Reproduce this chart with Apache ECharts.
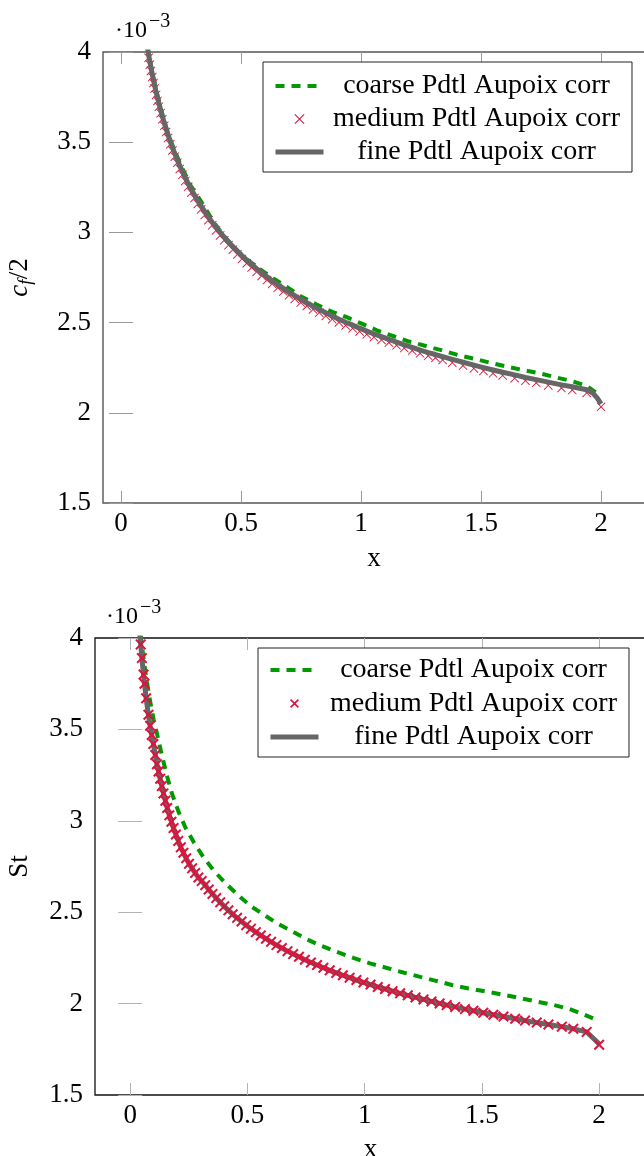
<!DOCTYPE html>
<html>
<head>
<meta charset="utf-8">
<script src="https://cdn.jsdelivr.net/npm/echarts@6.0.0/dist/echarts.min.js"></script>
<style>
  html, body { margin: 0; padding: 0; background: #fff; }
  #cf { position: absolute; left: 0; top: 0; width: 644px; height: 580px; }
  #st { position: absolute; left: 0; top: 580px; width: 644px; height: 576px; }
</style>
</head>
<body>
<div id="cf"></div>
<div id="st"></div>
<script>
var FONT = 'Liberation Serif';
var GREEN = '#009900';
var RED = '#dc143c';
var GRAY = '#666666';

var legendNames = ['coarse Pdtl Aupoix corr', 'medium Pdtl Aupoix corr', 'fine Pdtl Aupoix corr'];
var xTicks = [0, 0.5, 1, 1.5, 2];

// cf/2 (x 1e-3)
var cfCoarseX = [0.10, 0.113, 0.13, 0.15, 0.175, 0.20, 0.245, 0.29, 0.32, 0.385, 0.425, 0.48, 0.53, 0.59, 0.64, 0.70, 0.75, 0.815, 0.88, 0.94, 1.01, 1.07, 1.135, 1.20, 1.27, 1.34, 1.405, 1.47, 1.54, 1.61, 1.675, 1.74, 1.81, 1.88, 1.94, 2.0];
var cfCoarseY = [4.12, 4.0, 3.89, 3.77, 3.64, 3.53, 3.385, 3.26, 3.20, 3.06, 2.985, 2.905, 2.845, 2.785, 2.74, 2.69, 2.645, 2.60, 2.56, 2.53, 2.49, 2.455, 2.425, 2.395, 2.37, 2.345, 2.32, 2.30, 2.277, 2.255, 2.237, 2.22, 2.197, 2.175, 2.15, 2.09];

var cfMediumX = [0.115, 0.12, 0.125, 0.13, 0.135, 0.14, 0.146, 0.152, 0.158, 0.165, 0.172, 0.18, 0.188, 0.196, 0.205, 0.214, 0.224, 0.234, 0.245, 0.256, 0.268, 0.28, 0.293, 0.306, 0.32, 0.334, 0.349, 0.364, 0.38, 0.396, 0.413, 0.43, 0.448, 0.466, 0.485, 0.504, 0.524, 0.544, 0.565, 0.586, 0.608, 0.63, 0.653, 0.676, 0.7, 0.724, 0.749, 0.774, 0.8, 0.826, 0.853, 0.88, 0.908, 0.936, 0.965, 0.994, 1.024, 1.054, 1.085, 1.116, 1.148, 1.18, 1.213, 1.246, 1.28, 1.31, 1.34, 1.38, 1.425, 1.47, 1.51, 1.55, 1.59, 1.64, 1.685, 1.73, 1.78, 1.835, 1.88, 1.94, 2.0];
var cfMediumY = [3.968, 3.930, 3.895, 3.861, 3.828, 3.798, 3.762, 3.729, 3.697, 3.661, 3.627, 3.591, 3.556, 3.523, 3.488, 3.454, 3.420, 3.386, 3.352, 3.319, 3.285, 3.253, 3.220, 3.190, 3.158, 3.128, 3.097, 3.068, 3.039, 3.011, 2.983, 2.956, 2.929, 2.904, 2.878, 2.853, 2.829, 2.805, 2.781, 2.759, 2.736, 2.714, 2.693, 2.672, 2.651, 2.631, 2.611, 2.592, 2.573, 2.555, 2.537, 2.519, 2.501, 2.484, 2.468, 2.451, 2.435, 2.419, 2.404, 2.389, 2.374, 2.359, 2.345, 2.330, 2.316, 2.305, 2.293, 2.278, 2.262, 2.246, 2.232, 2.219, 2.207, 2.192, 2.178, 2.166, 2.152, 2.137, 2.126, 2.110, 2.033];

var cfFineX = [0.105, 0.115, 0.12, 0.125, 0.13, 0.135, 0.14, 0.146, 0.152, 0.158, 0.165, 0.172, 0.18, 0.188, 0.196, 0.205, 0.214, 0.224, 0.234, 0.245, 0.256, 0.268, 0.28, 0.293, 0.306, 0.32, 0.334, 0.349, 0.364, 0.38, 0.396, 0.413, 0.43, 0.448, 0.466, 0.485, 0.504, 0.524, 0.544, 0.565, 0.586, 0.608, 0.63, 0.653, 0.676, 0.7, 0.724, 0.749, 0.774, 0.8, 0.826, 0.853, 0.88, 0.908, 0.936, 0.965, 0.994, 1.024, 1.054, 1.085, 1.116, 1.148, 1.18, 1.213, 1.246, 1.28, 1.31, 1.34, 1.38, 1.425, 1.47, 1.51, 1.55, 1.59, 1.64, 1.685, 1.73, 1.78, 1.835, 1.88, 1.94, 1.965, 1.985, 2.0];
var cfFineY = [4.067, 3.986, 3.948, 3.913, 3.879, 3.846, 3.816, 3.780, 3.747, 3.715, 3.679, 3.645, 3.609, 3.574, 3.541, 3.506, 3.472, 3.438, 3.404, 3.370, 3.337, 3.303, 3.271, 3.238, 3.208, 3.176, 3.146, 3.115, 3.086, 3.057, 3.029, 3.001, 2.974, 2.947, 2.922, 2.896, 2.871, 2.847, 2.823, 2.799, 2.777, 2.754, 2.732, 2.711, 2.690, 2.669, 2.649, 2.629, 2.610, 2.591, 2.573, 2.555, 2.537, 2.519, 2.502, 2.486, 2.469, 2.453, 2.437, 2.422, 2.407, 2.392, 2.377, 2.363, 2.348, 2.334, 2.323, 2.311, 2.296, 2.280, 2.264, 2.250, 2.237, 2.225, 2.210, 2.196, 2.184, 2.170, 2.155, 2.144, 2.128, 2.110, 2.080, 2.050];

// St (x 1e-3)
var stCoarseX = [0.045, 0.05, 0.06, 0.07, 0.08, 0.09, 0.10, 0.11, 0.121, 0.135, 0.156, 0.178, 0.206, 0.235, 0.27, 0.313, 0.355, 0.405, 0.455, 0.512, 0.569, 0.625, 0.69, 0.753, 0.817, 0.888, 0.952, 1.023, 1.095, 1.165, 1.237, 1.30, 1.372, 1.443, 1.514, 1.585, 1.656, 1.727, 1.798, 1.869, 1.933, 2.0];
var stCoarseY = [4.02, 3.96, 3.86, 3.77, 3.69, 3.62, 3.555, 3.50, 3.44, 3.36, 3.25, 3.15, 3.05, 2.965, 2.885, 2.80, 2.73, 2.66, 2.60, 2.535, 2.487, 2.44, 2.396, 2.352, 2.315, 2.28, 2.25, 2.22, 2.195, 2.17, 2.146, 2.126, 2.102, 2.083, 2.067, 2.05, 2.032, 2.013, 1.995, 1.972, 1.942, 1.905];

var stMediumX = [0.045, 0.05, 0.057, 0.061, 0.068, 0.078, 0.085, 0.092, 0.099, 0.107, 0.114, 0.121, 0.128, 0.135, 0.142, 0.150, 0.158, 0.167, 0.176, 0.185, 0.195, 0.205, 0.216, 0.227, 0.239, 0.251, 0.264, 0.277, 0.291, 0.305, 0.32, 0.335, 0.351, 0.367, 0.384, 0.401, 0.419, 0.437, 0.456, 0.475, 0.495, 0.515, 0.536, 0.557, 0.579, 0.601, 0.624, 0.647, 0.671, 0.695, 0.72, 0.745, 0.771, 0.797, 0.824, 0.851, 0.879, 0.907, 0.936, 0.965, 0.995, 1.025, 1.056, 1.087, 1.119, 1.151, 1.184, 1.217, 1.251, 1.285, 1.32, 1.35, 1.386, 1.428, 1.464, 1.506, 1.549, 1.592, 1.642, 1.684, 1.734, 1.784, 1.841, 1.89, 1.947, 2.0];
var stMediumY = [3.965, 3.89, 3.80, 3.75, 3.67, 3.58, 3.52, 3.47, 3.42, 3.36, 3.31, 3.27, 3.23, 3.19, 3.15, 3.11, 3.07, 3.03, 2.995, 2.96, 2.925, 2.89, 2.855, 2.825, 2.795, 2.765, 2.74, 2.715, 2.69, 2.67, 2.648, 2.624, 2.600, 2.577, 2.554, 2.532, 2.510, 2.489, 2.469, 2.449, 2.429, 2.410, 2.391, 2.373, 2.355, 2.338, 2.320, 2.304, 2.287, 2.271, 2.256, 2.240, 2.225, 2.211, 2.196, 2.182, 2.168, 2.155, 2.142, 2.129, 2.116, 2.104, 2.091, 2.080, 2.068, 2.056, 2.045, 2.034, 2.023, 2.012, 2.001, 1.992, 1.982, 1.970, 1.961, 1.950, 1.939, 1.929, 1.917, 1.907, 1.896, 1.886, 1.874, 1.862, 1.845, 1.775];

var stFineX = [0.040, 0.045, 0.05, 0.057, 0.061, 0.068, 0.078, 0.085, 0.092, 0.099, 0.107, 0.114, 0.121, 0.128, 0.135, 0.142, 0.150, 0.158, 0.167, 0.176, 0.185, 0.195, 0.205, 0.216, 0.227, 0.239, 0.251, 0.264, 0.277, 0.291, 0.305, 0.32, 0.335, 0.351, 0.367, 0.384, 0.401, 0.419, 0.437, 0.456, 0.475, 0.495, 0.515, 0.536, 0.557, 0.579, 0.601, 0.624, 0.647, 0.671, 0.695, 0.72, 0.745, 0.771, 0.797, 0.824, 0.851, 0.879, 0.907, 0.936, 0.965, 0.995, 1.025, 1.056, 1.087, 1.119, 1.151, 1.184, 1.217, 1.251, 1.285, 1.32, 1.35, 1.386, 1.428, 1.464, 1.506, 1.549, 1.592, 1.642, 1.684, 1.734, 1.784, 1.841, 1.89, 1.947, 1.975, 2.0];
var stFineY = [4.04, 3.965, 3.89, 3.80, 3.75, 3.67, 3.58, 3.52, 3.47, 3.42, 3.36, 3.31, 3.27, 3.23, 3.19, 3.15, 3.11, 3.07, 3.03, 2.995, 2.96, 2.925, 2.89, 2.855, 2.825, 2.795, 2.765, 2.74, 2.715, 2.69, 2.67, 2.648, 2.624, 2.600, 2.577, 2.554, 2.532, 2.510, 2.489, 2.469, 2.449, 2.429, 2.410, 2.391, 2.373, 2.355, 2.338, 2.320, 2.304, 2.287, 2.271, 2.256, 2.240, 2.225, 2.211, 2.196, 2.182, 2.168, 2.155, 2.142, 2.129, 2.116, 2.104, 2.091, 2.080, 2.068, 2.056, 2.045, 2.034, 2.023, 2.012, 2.001, 1.992, 1.982, 1.970, 1.961, 1.950, 1.939, 1.929, 1.917, 1.907, 1.896, 1.886, 1.874, 1.862, 1.845, 1.81, 1.78];

var THIN_CROSS = 'path://M0,0.7L0.7,0L5,4.3L9.3,0L10,0.7L5.7,5L10,9.3L9.3,10L5,5.7L0.7,10L0,9.3L4.3,5Z';
var BOLD_CROSS = 'path://M0,1.3L1.3,0L5,3.7L8.7,0L10,1.3L6.3,5L10,8.7L8.7,10L5,6.3L1.3,10L0,8.7L3.7,5Z';

// hides the dot ECharts puts in the middle of a line legend icon
var NO_DOT = { color: 'rgba(0,0,0,0)', borderWidth: 0, opacity: 0 };

function pairs(xs, ys) {
    return xs.map(function (x, i) { return [x, ys[i]]; });
}

function makeOption(cfg) {
    var tickStyle = { color: cfg.tickColor, width: 1 };
    return {
        animation: false,
        grid: {
            left: cfg.left, top: cfg.top, width: cfg.width, height: cfg.height,
            show: true, borderColor: cfg.frameColor, borderWidth: cfg.frameWidth,
            backgroundColor: 'transparent', containLabel: false, outerBoundsMode: 'none'
        },
        xAxis: [{
            type: 'value', min: cfg.xMin, max: cfg.xMax, position: 'bottom',
            axisLine: { show: false }, splitLine: { show: false },
            axisTick: { inside: true, length: 12, customValues: xTicks, lineStyle: tickStyle },
            axisLabel: { customValues: xTicks, margin: 7, color: '#000', fontFamily: FONT, fontSize: 27 },
            name: 'x', nameLocation: 'middle', nameGap: cfg.xNameGap,
            nameTextStyle: { color: '#000', fontFamily: FONT, fontSize: 27 }
        }, {
            type: 'value', min: cfg.xMin, max: cfg.xMax, position: 'top',
            axisLine: { show: false }, splitLine: { show: false },
            axisTick: { inside: true, length: 12, customValues: xTicks, lineStyle: tickStyle },
            axisLabel: { show: false }
        }],
        yAxis: [{
            type: 'value', min: 1.5, max: 4, interval: 0.5, position: 'left',
            axisLine: { show: false }, splitLine: { show: false },
            axisTick: { inside: true, length: 12, lineStyle: tickStyle },
            axisLabel: { margin: cfg.yLabelMargin, color: '#000', fontFamily: FONT, fontSize: 27 },
            name: cfg.yName, nameLocation: 'middle', nameRotate: 90, nameGap: cfg.yNameGap,
            nameTextStyle: {
                color: '#000', fontFamily: FONT, fontSize: 27,
                rich: {
                    i: { fontFamily: FONT, fontSize: 27, fontStyle: 'italic', lineHeight: 30, color: '#000' },
                    s: { fontFamily: FONT, fontSize: 19, fontStyle: 'italic', lineHeight: 12, verticalAlign: 'bottom', color: '#000' },
                    n: { fontFamily: FONT, fontSize: 27, lineHeight: 30, color: '#000' }
                }
            }
        }, {
            type: 'value', min: 1.5, max: 4, interval: 0.5, position: 'right',
            axisLine: { show: false }, splitLine: { show: false },
            axisTick: { inside: true, length: 12, lineStyle: tickStyle },
            axisLabel: { show: false }
        }],
        legend: {
            orient: 'vertical', left: cfg.legendLeft, top: cfg.legendTop,
            padding: cfg.legendPad, itemGap: cfg.legendGap, itemWidth: 48, itemHeight: cfg.legendIconH,
            backgroundColor: '#fff', borderColor: '#222', borderWidth: 1,
            selectedMode: false,
            formatter: function (name) { return '{t|' + name + '}'; },
            textStyle: {
                rich: { t: { width: cfg.legendTextW, align: 'center', fontFamily: FONT, fontSize: 28, color: '#000' } }
            },
            data: [
                { name: legendNames[0], itemStyle: NO_DOT, lineStyle: { color: GREEN, width: 4, type: [9, 7], opacity: 1 } },
                { name: legendNames[1] },
                { name: legendNames[2], itemStyle: NO_DOT, lineStyle: { color: GRAY, width: 5, opacity: 1 } }
            ]
        },
        graphic: [
            { type: 'text', x: cfg.expX, y: cfg.expY, style: { text: '\u00b710', fontFamily: FONT, fontSize: 24, fill: '#000', verticalAlign: 'middle' } },
            { type: 'text', x: cfg.supX, y: cfg.supY, style: { text: '\u22123', fontFamily: FONT, fontSize: 20, fill: '#000', verticalAlign: 'middle' } }
        ],
        series: [{
            name: legendNames[0], type: 'line', data: cfg.coarse, symbol: 'none',
            lineStyle: { color: GREEN, width: 4, type: [9, 7], cap: 'butt' },
            itemStyle: { color: GREEN }, z: 2
        }, {
            name: legendNames[1], type: 'scatter', data: cfg.medium,
            symbol: cfg.cross, symbolSize: cfg.crossSize,
            itemStyle: { color: RED, opacity: 1 }, z: cfg.mediumZ
        }, {
            name: legendNames[2], type: 'line', data: cfg.fine, symbol: 'none',
            lineStyle: { color: GRAY, width: 5, join: 'round' },
            itemStyle: { color: GRAY }, z: cfg.fineZ
        }]
    };
}

var cfChart = echarts.init(document.getElementById('cf'));
var cfOption = makeOption({
    left: 103, top: 52, width: 542, height: 451,
    xMin: -0.075, xMax: 2.183, xNameGap: 42,
    frameColor: '#555', frameWidth: 1.4, tickColor: '#999',
    yLabelMargin: 12,
    yName: '{i|c}{s|f}{n|/2}', yNameGap: 68,
    legendLeft: 263, legendTop: 62, legendTextW: 296, legendIconH: 10,
    legendPad: [10, 12, 6, 10], legendGap: 5,
    expX: 115, expY: 31, supX: 149, supY: 22,
    cross: THIN_CROSS, crossSize: 9, mediumZ: 3, fineZ: 4,
    coarse: pairs(cfCoarseX, cfCoarseY),
    medium: pairs(cfMediumX, cfMediumY),
    fine: pairs(cfFineX, cfFineY)
});
cfChart.setOption(cfOption);

var stChart = echarts.init(document.getElementById('st'));
var stOption = makeOption({
    left: 95, top: 58, width: 551, height: 457,
    xMin: -0.15, xMax: 2.2, xNameGap: 41,
    frameColor: '#111', frameWidth: 1.3, tickColor: '#b3b3b3',
    yLabelMargin: 12,
    yName: '{n|St}', yNameGap: 60,
    legendLeft: 258, legendTop: 68, legendTextW: 300, legendIconH: 9,
    legendPad: [8, 12, 6, 10], legendGap: 5.5,
    expX: 106, expY: 37, supX: 140, supY: 27.5,
    cross: BOLD_CROSS, crossSize: 11, mediumZ: 4, fineZ: 3,
    coarse: pairs(stCoarseX, stCoarseY),
    medium: pairs(stMediumX, stMediumY),
    fine: pairs(stFineX, stFineY)
});
stChart.setOption(stOption);
</script>
</body>
</html>
